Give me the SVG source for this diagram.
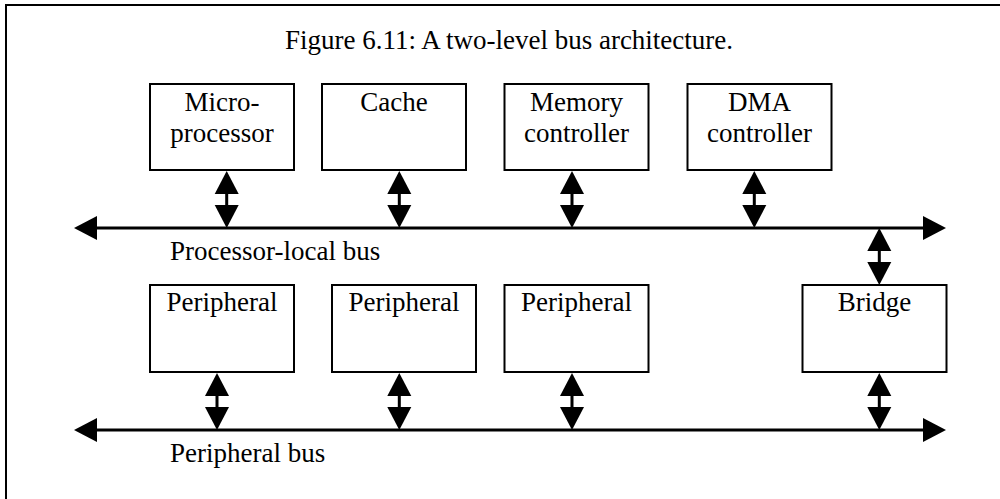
<svg xmlns="http://www.w3.org/2000/svg" xmlns:xlink="http://www.w3.org/1999/xlink" width="1000" height="499" viewBox="0 0 1000 499">
<style>
  .box { fill: #fff; stroke: #000; stroke-width: 2; }
  .t { font-family: "Liberation Serif", "Times New Roman", serif; font-size: 27px; fill: #000; }
  .c { text-anchor: middle; }
  .bus { stroke: #000; stroke-width: 3; fill: none; }
  .head { fill: #000; }
</style>
<defs>
  <g id="dbl">
    <polygon class="head" points="0,0 -12,23 12,23"/>
    <rect class="head" x="-1.5" y="22" width="3" height="13"/>
    <polygon class="head" points="-12,34 12,34 0,57"/>
  </g>
</defs>
<rect x="6" y="5" width="1000" height="500" fill="none" stroke="#000" stroke-width="2"/>
<text class="t c" x="509" y="49">Figure 6.11: A two-level bus architecture.</text>

<g id="microprocessor">
  <rect class="box" x="150" y="84" width="144" height="86"/>
  <text class="t c" x="222" y="111">Micro-</text>
  <text class="t c" x="222" y="142">processor</text>
</g>
<g id="cache">
  <rect class="box" x="322" y="84" width="144" height="86"/>
  <text class="t c" x="394" y="111">Cache</text>
</g>
<g id="memory-controller">
  <rect class="box" x="504.5" y="84" width="144" height="86"/>
  <text class="t c" x="576.5" y="111">Memory</text>
  <text class="t c" x="576.5" y="142">controller</text>
</g>
<g id="dma-controller">
  <rect class="box" x="687.5" y="84" width="144" height="86"/>
  <text class="t c" x="759.5" y="111">DMA</text>
  <text class="t c" x="759.5" y="142">controller</text>
</g>
<g id="peripheral1">
  <rect class="box" x="150" y="285" width="144" height="87"/>
  <text class="t c" x="222" y="311">Peripheral</text>
</g>
<g id="peripheral2">
  <rect class="box" x="332" y="285" width="144" height="87"/>
  <text class="t c" x="404" y="311">Peripheral</text>
</g>
<g id="peripheral3">
  <rect class="box" x="504.5" y="285" width="144" height="87"/>
  <text class="t c" x="576.5" y="311">Peripheral</text>
</g>
<g id="bridge">
  <rect class="box" x="802.5" y="285" width="144" height="87"/>
  <text class="t c" x="874.5" y="311">Bridge</text>
</g>

<g id="connectors">
  <g id="processor-local-bus">
    <line class="bus" x1="95" y1="228" x2="925" y2="228"/>
    <polygon class="head" points="74,228 97,216 97,240"/>
    <polygon class="head" points="946,228 923,216 923,240"/>
  </g>
  <g id="peripheral-bus">
    <line class="bus" x1="95" y1="430" x2="925" y2="430"/>
    <polygon class="head" points="74,430 97,418 97,442"/>
    <polygon class="head" points="946,430 923,418 923,442"/>
  </g>
  <use xlink:href="#dbl" href="#dbl" transform="translate(226.7,171)"/>
  <use xlink:href="#dbl" href="#dbl" transform="translate(399.3,171)"/>
  <use xlink:href="#dbl" href="#dbl" transform="translate(572,171)"/>
  <use xlink:href="#dbl" href="#dbl" transform="translate(754.3,171)"/>
  <use xlink:href="#dbl" href="#dbl" transform="translate(879.3,228)"/>
  <use xlink:href="#dbl" href="#dbl" transform="translate(217,373)"/>
  <use xlink:href="#dbl" href="#dbl" transform="translate(399.3,373)"/>
  <use xlink:href="#dbl" href="#dbl" transform="translate(572,373)"/>
  <use xlink:href="#dbl" href="#dbl" transform="translate(879.3,373)"/>
</g>

<text class="t" x="170" y="260">Processor-local bus</text>
<text class="t" x="170" y="462">Peripheral bus</text>
</svg>
